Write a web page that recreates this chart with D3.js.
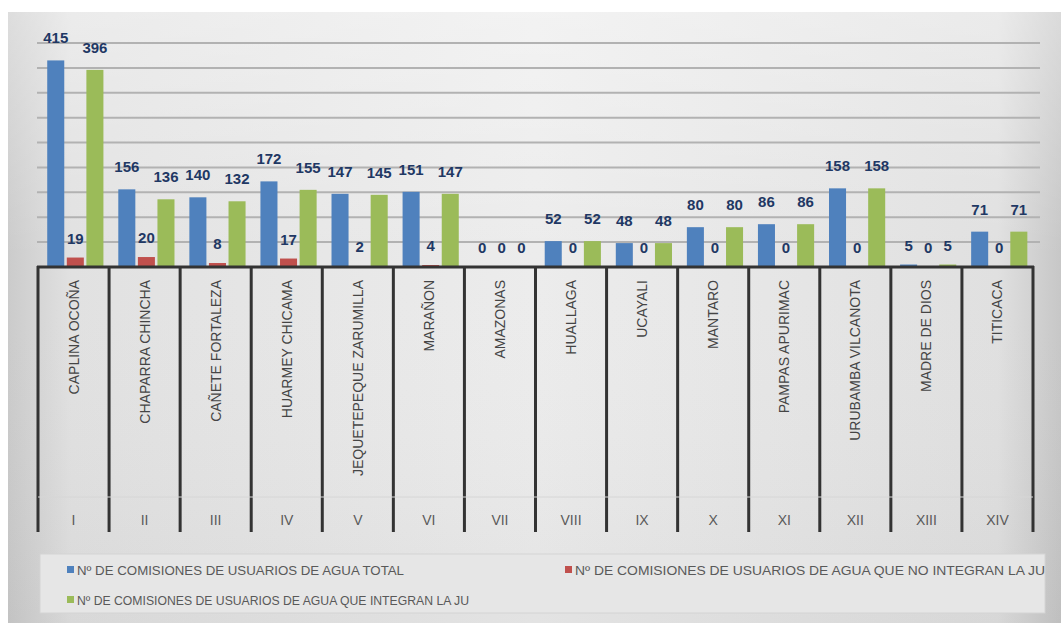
<!DOCTYPE html>
<html>
<head>
<meta charset="utf-8">
<script src="https://cdn.jsdelivr.net/npm/d3@7"></script>
<style>
  body { margin: 0; background: #fff; }
  text { font-family: "Liberation Sans", Arial, sans-serif; }
</style>
</head>
<body>
<div id="chart"></div>
<script>
// Datos
const cuencas = ["CAPLINA OCOÑA", "CHAPARRA CHINCHA", "CAÑETE FORTALEZA", "HUARMEY CHICAMA",
  "JEQUETEPEQUE ZARUMILLA", "MARAÑON", "AMAZONAS", "HUALLAGA", "UCAYALI", "MANTARO",
  "PAMPAS APURIMAC", "URUBAMBA VILCANOTA", "MADRE DE DIOS", "TITICACA"];
const romanos = ["I", "II", "III", "IV", "V", "VI", "VII", "VIII", "IX", "X", "XI", "XII", "XIII", "XIV"];
const total = [415, 156, 140, 172, 147, 151, 0, 52, 48, 80, 86, 158, 5, 71];
const noIntegran = [19, 20, 8, 17, 2, 4, 0, 0, 0, 0, 0, 0, 0, 0];
const integran = [396, 136, 132, 155, 145, 147, 0, 52, 48, 80, 86, 158, 5, 71];
const series = ["Nº DE COMISIONES DE USUARIOS DE AGUA TOTAL",
  "Nº DE COMISIONES DE USUARIOS DE AGUA QUE NO INTEGRAN LA JU",
  "Nº DE COMISIONES DE USUARIOS DE AGUA QUE INTEGRAN LA JU"];
const yTicks = [50, 100, 150, 200, 250, 300, 350, 400, 450];

const colors = ["#4f81bd", "#c0504d", "#9bbb59"];
const width = 1061, height = 623;

const rows = cuencas.map((c, i) => ({ cuenca: c, roman: romanos[i], vals: [total[i], noIntegran[i], integran[i]] }));

const svg = d3.select("#chart").append("svg")
  .attr("width", width).attr("height", height);

// fondo degradado
const defs = svg.append("defs");
const grad = defs.append("linearGradient").attr("id", "bg").attr("x1", 0).attr("x2", 1).attr("y1", 0).attr("y2", 0);
grad.append("stop").attr("offset", "0%").attr("stop-color", "#cbcbcb");
grad.append("stop").attr("offset", "6%").attr("stop-color", "#e1e1e1");
grad.append("stop").attr("offset", "50%").attr("stop-color", "#ececec");
grad.append("stop").attr("offset", "94%").attr("stop-color", "#e0e0e0");
grad.append("stop").attr("offset", "100%").attr("stop-color", "#c7c7c7");
const gradV = defs.append("linearGradient").attr("id", "bgv").attr("x1", 0).attr("x2", 0).attr("y1", 0).attr("y2", 1);
gradV.append("stop").attr("offset", "0%").attr("stop-color", "#fff").attr("stop-opacity", 0.35);
gradV.append("stop").attr("offset", "40%").attr("stop-color", "#fff").attr("stop-opacity", 0);
gradV.append("stop").attr("offset", "100%").attr("stop-color", "#000").attr("stop-opacity", 0.04);

svg.append("rect").attr("x", 8).attr("y", 12).attr("width", width - 8).attr("height", height - 12)
  .attr("fill", "url(#bg)");
svg.append("rect").attr("x", 8).attr("y", 12).attr("width", width - 8).attr("height", height - 12)
  .attr("fill", "url(#bgv)");

// escalas
const x0 = d3.scaleBand().domain(cuencas).range([38, 1033]).padding(0);
const x1 = d3.scaleBand().domain([0, 1, 2]).range([0, x0.bandwidth()])
  .paddingInner(0.13).paddingOuter(0.38).align(0.62);
const y = d3.scaleLinear().domain([0, 450]).range([267, 43]);

// lineas de cuadricula
svg.append("g").selectAll("line")
  .data(yTicks)
  .join("line")
  .attr("x1", 37).attr("x2", 1040)
  .attr("y1", d => y(d)).attr("y2", d => y(d))
  .attr("stroke", "#b2b2b2").attr("stroke-width", 2);

// barras
const grupos = svg.append("g").selectAll("g")
  .data(rows)
  .join("g")
  .attr("transform", d => `translate(${x0(d.cuenca)},0)`);

grupos.selectAll("rect")
  .data(d => d.vals.map((v, k) => ({ k, v })))
  .join("rect")
  .attr("x", d => x1(d.k))
  .attr("width", x1.bandwidth())
  .attr("y", d => y(d.v))
  .attr("height", d => y(0) - y(d.v))
  .attr("fill", d => colors[d.k]);

// etiquetas de datos
grupos.selectAll("text")
  .data(d => d.vals.map((v, k) => ({ k, v })))
  .join("text")
  .attr("x", d => x1(d.k) + x1.bandwidth() / 2)
  .attr("y", d => y(d.v) - (d.v > 30 ? 17 : 14))
  .attr("text-anchor", "middle")
  .attr("font-family", "Lato, sans-serif")
  .attr("font-weight", "bold")
  .attr("font-size", 15)
  .attr("fill", "#1f3864")
  .text(d => d.v);

// eje de categorias multinivel
const eje = svg.append("g");
eje.append("line")
  .attr("x1", 37).attr("x2", 1034).attr("y1", 267).attr("y2", 267)
  .attr("stroke", "#333").attr("stroke-width", 3);
eje.selectAll(".sep")
  .data(cuencas.concat(["__fin"]))
  .join("line")
  .attr("class", "sep")
  .attr("x1", (d, i) => i < cuencas.length ? x0(d) : x0.range()[1])
  .attr("x2", (d, i) => i < cuencas.length ? x0(d) : x0.range()[1])
  .attr("y1", 266).attr("y2", 532)
  .attr("stroke", "#333").attr("stroke-width", 3);
eje.append("line")
  .attr("x1", 38).attr("x2", 1033).attr("y1", 497).attr("y2", 497)
  .attr("stroke", "#d6d6d6").attr("stroke-width", 1);

eje.selectAll(".nom")
  .data(rows)
  .join("text")
  .attr("class", "nom")
  .attr("transform", d => `translate(${x0(d.cuenca) + x0.bandwidth() / 2 + 5},280) rotate(-90)`)
  .attr("text-anchor", "end")
  .attr("font-size", 14)
  .attr("fill", "#454545")
  .text(d => d.cuenca);

eje.selectAll(".rom")
  .data(rows)
  .join("text")
  .attr("class", "rom")
  .attr("x", d => x0(d.cuenca) + x0.bandwidth() / 2)
  .attr("y", 525)
  .attr("text-anchor", "middle")
  .attr("font-size", 14)
  .attr("fill", "#5a5a5a")
  .text(d => d.roman);

// leyenda
const ley = svg.append("g");
ley.append("rect")
  .attr("x", 40).attr("y", 554).attr("width", 1005).attr("height", 59)
  .attr("fill", "#e6e6e6").attr("stroke", "#d4d4d4");
const posLey = [[67, 570], [565, 570], [67, 600]];
const items = ley.selectAll(".item")
  .data(series)
  .join("g")
  .attr("class", "item")
  .attr("transform", (d, i) => `translate(${posLey[i][0]},${posLey[i][1]})`);
items.append("rect")
  .attr("x", 0).attr("y", -4).attr("width", 7).attr("height", 7)
  .attr("fill", (d, i) => colors[i]);
items.append("text")
  .attr("x", 10).attr("y", 4.5)
  .attr("font-size", 13)
  .attr("fill", "#595959")
  .attr("textLength", (d, i) => [327, 470, 392][i])
  .attr("lengthAdjust", "spacingAndGlyphs")
  .text(d => d);
</script>
</body>
</html>
